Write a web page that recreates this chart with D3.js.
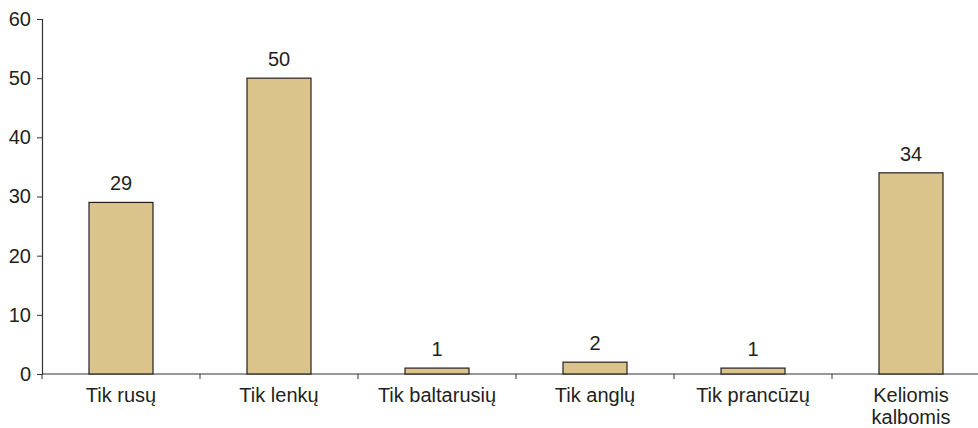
<!DOCTYPE html>
<html>
<head>
<meta charset="utf-8">
<script src="https://cdn.jsdelivr.net/npm/d3@7"></script>
<style>
  body { margin: 0; background: #fff; }
  svg text { font-family: "Liberation Sans", Arial, sans-serif; fill: #231f20; font-size: 20px; }
</style>
</head>
<body>
<script>
// bar chart: languages

var categories = ["Tik rusų", "Tik lenkų", "Tik baltarusių", "Tik anglų", "Tik prancūzų", "Keliomis kalbomis"];
var values = [29, 50, 1, 2, 1, 34];
var yTicks = [0, 10, 20, 30, 40, 50, 60];

var width = 978, height = 428;
var x0 = 42, step = 158, y0 = 374, y60 = 19;

var svg = d3.select("body").append("svg")
    .attr("width", width)
    .attr("height", height);

var x = d3.scaleBand()
    .domain(categories)
    .range([x0, x0 + step * categories.length])
    .paddingInner(0.595)
    .paddingOuter(0.2975);

var y = d3.scaleLinear()
    .domain([0, 60])
    .range([y0, y60]);

// y axis
var yAxis = svg.append("g")
    .attr("transform", "translate(" + x0 + ",0)")
    .call(d3.axisLeft(y).tickValues(yTicks).tickSize(5).tickPadding(6));
yAxis.attr("font-size", null).attr("font-family", null);
yAxis.select(".domain").attr("stroke", "#333").attr("stroke-width", 1.2);
yAxis.selectAll(".tick line").attr("stroke", "#333");
yAxis.selectAll("text").attr("fill", "#231f20");

// x axis line
svg.append("line")
    .attr("x1", x0).attr("x2", width)
    .attr("y1", y0).attr("y2", y0)
    .attr("stroke", "#333").attr("stroke-width", 1.2);

// tick marks between categories
svg.selectAll(".xtick")
  .data(d3.range(categories.length + 1))
  .enter().append("line")
    .attr("x1", function(i) { return x0 + i * x.step(); })
    .attr("x2", function(i) { return x0 + i * x.step(); })
    .attr("y1", y0).attr("y2", y0 + 5)
    .attr("stroke", "#333");

// bars
svg.selectAll(".bar")
  .data(values)
  .enter().append("rect")
    .attr("x", function(d, i) { return x(categories[i]); })
    .attr("y", function(d) { return y(d); })
    .attr("width", x.bandwidth())
    .attr("height", function(d) { return y0 - y(d); })
    .attr("fill", "#dbc38c")
    .attr("stroke", "#231f20")
    .attr("stroke-width", 1.2);

// value labels
svg.selectAll(".val")
  .data(values)
  .enter().append("text")
    .attr("x", function(d, i) { return x(categories[i]) + x.bandwidth() / 2; })
    .attr("y", function(d) { return y(d) - 12; })
    .attr("text-anchor", "middle")
    .text(function(d) { return d; });

// category labels
var cat = svg.selectAll(".cat")
  .data(categories)
  .enter().append("text")
    .attr("x", function(d) { return x(d) + x.bandwidth() / 2; })
    .attr("y", 402)
    .attr("text-anchor", "middle");

cat.each(function(d) {
  var words = d === "Keliomis kalbomis" ? ["Keliomis", "kalbomis"] : [d];
  var t = d3.select(this);
  words.forEach(function(w, j) {
    t.append("tspan")
      .attr("x", t.attr("x"))
      .attr("dy", j === 0 ? 0 : 22)
      .text(w);
  });
});
</script>
</body>
</html>
